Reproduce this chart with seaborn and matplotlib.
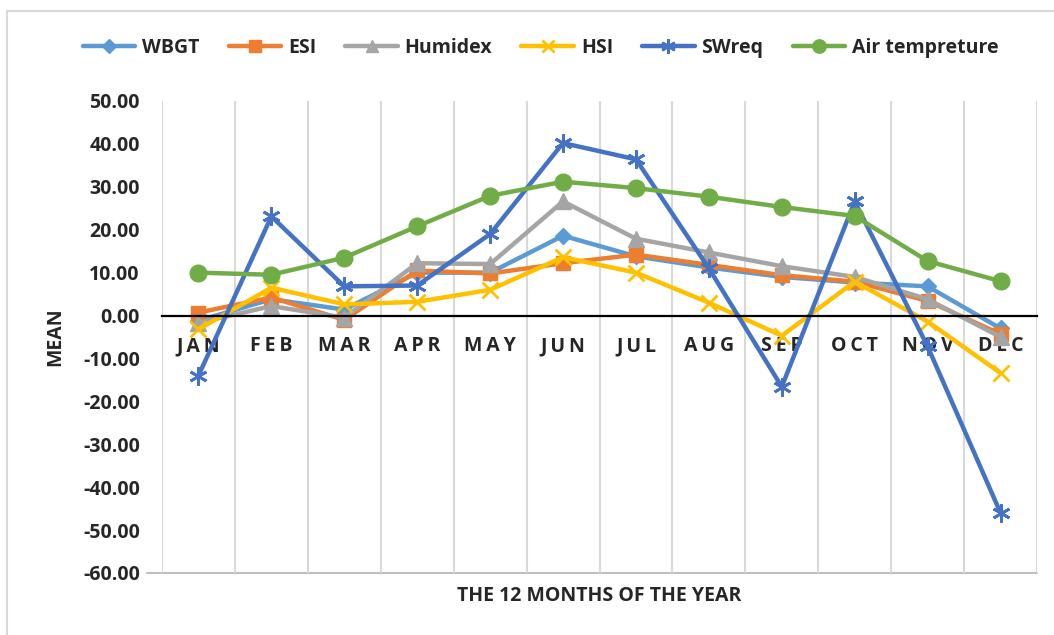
import numpy as np
import pandas as pd
import matplotlib
matplotlib.use("Agg")
import matplotlib.pyplot as plt
from matplotlib.patches import Rectangle
import seaborn as sns

months = ["JAN", "FEB", "MAR", "APR", "MAY", "JUN", "JUL", "AUG", "SEP", "OCT", "NOV", "DEC"]

wbgt = [-1.2, 3.8, 1.4, 10.0, 10.0, 18.6, 13.8, 11.2, 9.0, 7.7, 6.8, -3.0]
esi = [0.7, 4.2, -1.0, 10.5, 9.8, 12.2, 14.2, 11.8, 9.4, 7.9, 3.4, -4.3]
humidex = [-1.7, 2.2, -0.5, 12.2, 12.0, 26.6, 17.9, 14.7, 11.5, 9.0, 3.8, -5.0]
hsi = [-3.2, 6.5, 2.6, 3.2, 6.0, 13.6, 10.0, 3.0, -4.7, 7.9, -1.4, -13.4]
swreq = [-14.0, 23.1, 6.8, 7.0, 19.0, 40.2, 36.4, 11.0, -16.6, 26.6, -7.2, -46.0]
air_temp = [10.0, 9.5, 13.5, 20.8, 27.9, 31.2, 29.7, 27.7, 25.3, 23.2, 12.7, 8.0]

series = [
    ("WBGT", wbgt, "#5B9BD5", "D", 8.5),
    ("ESI", esi, "#ED7D31", "s", 10),
    ("Humidex", humidex, "#A5A5A5", "^", 11),
    ("HSI", hsi, "#FFC000", "x", 11),
    ("SWreq", swreq, "#4472C4", (6, 2, 0), 13),
    ("Air tempreture", air_temp, "#70AD47", "o", 12),
]

sns.set_style("white")
plt.rcParams["font.family"] = ["Open Sans", "DejaVu Sans"]
plt.rcParams["font.weight"] = "bold"
plt.rcParams["axes.unicode_minus"] = False

fig = plt.figure(figsize=(10.54, 6.35), dpi=100)
ax = fig.add_axes([162 / 1054, 1 - 573 / 635, (1037 - 162) / 1054, (573 - 101) / 635])

for name, vals, color, marker, ms in series:
    sns.lineplot(x=months, y=vals, ax=ax, sort=False, color=color, linewidth=3.2,
                 marker=marker, markersize=ms, markeredgecolor=color,
                 markerfacecolor=color, markeredgewidth=2 if marker in ("x", (6, 2, 0)) else 1,
                 label=name)

ax.set_xlim(-0.5, 11.5)
ax.set_ylim(-60, 50)
ax.set_yticks(np.arange(-60, 51, 10))
ax.set_yticklabels([f"{v:.2f}" for v in np.arange(-60, 51, 10)], fontsize=14, fontweight="bold")
ax.tick_params(axis="y", length=0, pad=16)

# category boundaries as vertical gridlines
ax.set_xticks(np.arange(-0.5, 12, 1), minor=True)
ax.grid(which="minor", axis="x", color="#D9D9D9", linewidth=1.5)
ax.grid(which="major", axis="both", visible=False)
ax.set_xticks(range(len(months)))
ax.set_xticklabels(["\u2009".join(m) for m in months])
ax.tick_params(axis="x", which="both", length=0, pad=15, labelsize=14)
for lbl in ax.get_xticklabels():
    lbl.set_fontweight("bold")

for side in ["left", "right", "top"]:
    ax.spines[side].set_visible(False)
ax.spines["bottom"].set_position(("data", 0))
ax.spines["bottom"].set_color("black")
ax.spines["bottom"].set_linewidth(1.6)
ax.plot([-0.7, 11.5], [-60, -60], color="#BFBFBF", linewidth=1.5, clip_on=False, zorder=0)

ax.set_xlabel("THE 12 MONTHS OF THE YEAR", fontsize=14, fontweight="bold")
ax.xaxis.set_label_coords(0.5, -0.028)
ax.set_ylabel("MEAN", fontsize=14, fontweight="bold")
ax.yaxis.set_label_coords(-0.122, 0.5)
ax.yaxis.label.set_va("center")

handles, labels = ax.get_legend_handles_labels()
ax.get_legend().remove()
fig.legend(handles, labels, loc="center", bbox_to_anchor=(0.513, 1 - 48 / 635), ncol=6,
           frameon=False, prop={"size": 14, "weight": "bold"}, handlelength=2.7,
           handletextpad=0.35, columnspacing=1.5, markerscale=0.8)

fig.add_artist(Rectangle((7 / 1054, -0.1), 1.2, 1.1 - 12 / 635 + 0.001, transform=fig.transFigure,
                         fill=False, edgecolor="#D9D9D9", linewidth=1.5))

fig.savefig("out.png", dpi=100)
